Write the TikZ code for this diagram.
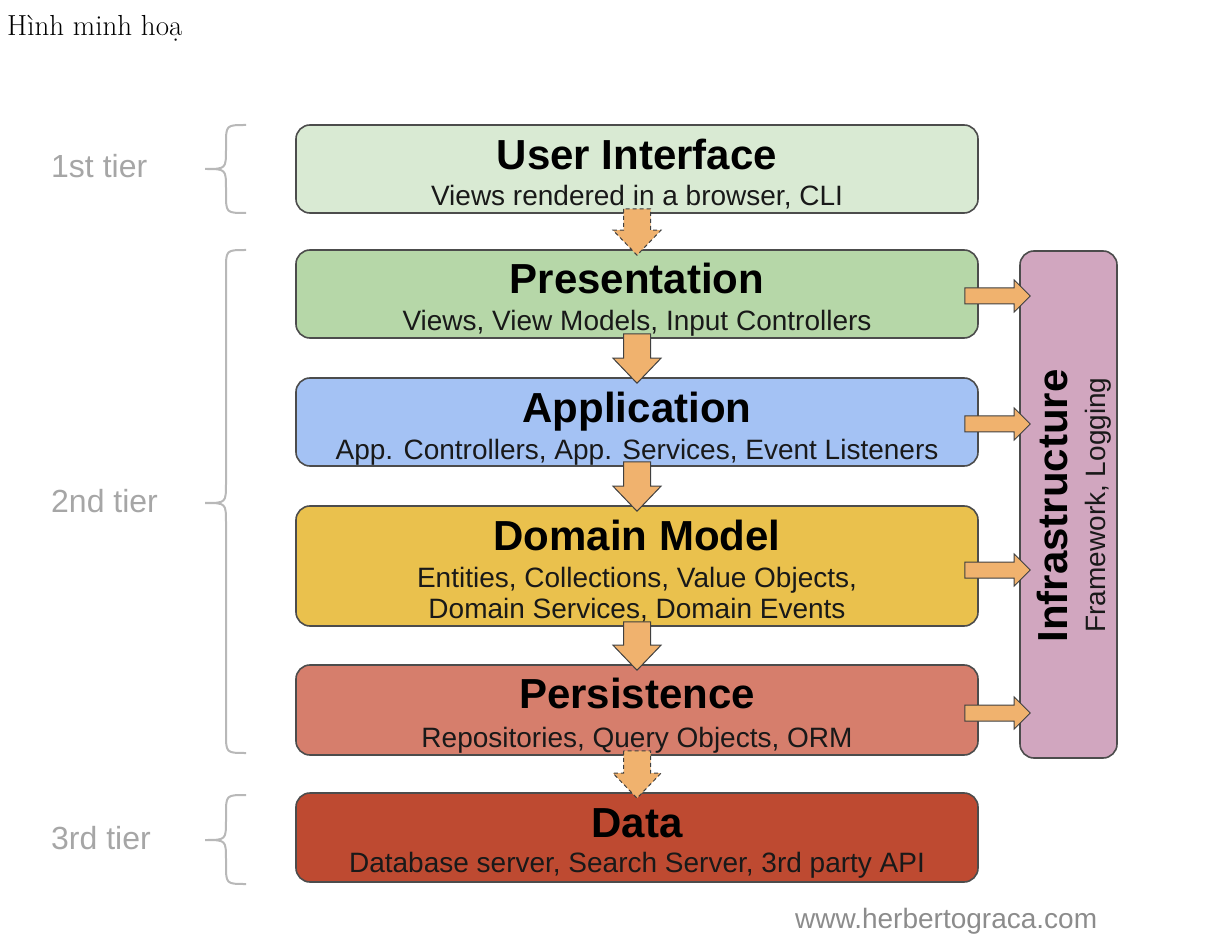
\documentclass[tikz,border=0pt]{standalone}
\usepackage{fontspec}
\newfontfamily\arialfont{Liberation Sans}
\usepackage{tikz}
\usetikzlibrary{calc}
\definecolor{uicol}{RGB}{217,234,211}
\definecolor{prescol}{RGB}{182,215,168}
\definecolor{appcol}{RGB}{164,194,244}
\definecolor{domcol}{RGB}{234,193,77}
\definecolor{perscol}{RGB}{214,126,108}
\definecolor{datacol}{RGB}{190,74,49}
\definecolor{infracol}{RGB}{209,166,191}
\definecolor{arrowcol}{RGB}{240,178,110}

\begin{document}
\begin{tikzpicture}[
  x=1pt, y=-1pt,
  layer/.style={draw=black!70, line width=1.6pt, rounded corners=14pt, inner sep=0pt},
  title/.style={font=\arialfont\bfseries\fontsize{42}{48}\selectfont, anchor=base, inner sep=0pt},
  sub/.style={font=\arialfont\fontsize{28}{32}\selectfont, anchor=base, inner sep=0pt, text=black!90},
  tierlabel/.style={font=\arialfont\fontsize{32}{36}\selectfont, text=black!35, anchor=base west, inner sep=0pt},
  tierbrace/.style={draw=black!28, line width=2pt},
  flow/.style={draw=black!75, fill=arrowcol, line width=1pt, line join=miter},
  broken/.style={dash pattern=on 4pt off 3pt}
]
  \useasboundingbox (0,0) rectangle (1224,949);
  \node[font=\fontsize{29}{34}\selectfont, anchor=base west, inner sep=0pt] (caption) at (7,36) {Hình minh hoạ};
  % tiers
  \foreach \i/\t/\m/\b/\lbl in {1/125/169/213/1st tier, 2/250/503/753/2nd tier, 3/795/840/884/3rd tier} {
    \draw[tierbrace] (246,\t) .. controls (226,\t) .. (226,\t+20) -- (226,\m-20) .. controls (226,\m) .. (205,\m)
      .. controls (226,\m) .. (226,\m+20) -- (226,\b-20) .. controls (226,\b) .. (246,\b);
    \node[tierlabel] (tier\i) at (51,\m+9) {\lbl};
  }
  % layers
  \node[layer, fill=uicol, minimum width=682pt, minimum height=88pt] (ui) at (637,169) {};
  \node[layer, fill=prescol, minimum width=682pt, minimum height=88pt] (pres) at (637,294) {};
  \node[layer, fill=appcol, minimum width=682pt, minimum height=88pt] (app) at (637,422) {};
  \node[layer, fill=domcol, minimum width=682pt, minimum height=120pt] (dom) at (637,566) {};
  \node[layer, fill=perscol, minimum width=682pt, minimum height=90pt] (pers) at (637,710) {};
  \node[layer, fill=datacol, minimum width=682pt, minimum height=89pt] (data) at (637,837.5) {};
  \node[layer, fill=infracol, minimum width=97pt, minimum height=507pt] (infra) at (1068.5,504.5) {};
  \node[title] (ui-title) at (637,170) {User Interface};
  \node[sub] (ui-sub) at (637,206) {Views rendered in a browser, CLI};
  \node[title] (pres-title) at (637,294) {Presentation};
  \node[sub] (pres-sub) at (637,331) {Views, View Models, Input Controllers};
  \node[title] (app-title) at (637,423) {Application};
  \node[sub] (app-sub) at (637,460) {App. Controllers, App. Services, Event Listeners};
  \node[title] (dom-title) at (637,550) {Domain Model};
  \node[sub] (dom-sub1) at (637,587) {Entities, Collections, Value Objects,};
  \node[sub] (dom-sub2) at (637,618) {Domain Services, Domain Events};
  \node[title] (pers-title) at (637,708) {Persistence};
  \node[sub] (pers-sub) at (637,747) {Repositories, Query Objects, ORM};
  \node[title] (data-title) at (637,837) {Data};
  \node[sub] (data-sub) at (637,872) {Database server, Search Server, 3rd party API};
  \node[title, rotate=90] (infra-title) at (1067,506) {Infrastructure};
  \node[sub, rotate=90] (infra-sub) at (1105,505) {Framework, Logging};
  % flows down
  \foreach \a/\b/\st in {ui/pres/broken, pres/app/solid, app/dom/solid, dom/pers/solid, pers/data/broken} {
    \draw[flow,\st] ($(\a.south)+(-13.5,-5)$) -- ($(\b.north)+(-13.5,-19)$) -- ($(\b.north)+(-24,-19)$) -- ($(\b.north)+(0,6)$)
      -- ($(\b.north)+(24,-19)$) -- ($(\b.north)+(13.5,-19)$) -- ($(\a.south)+(13.5,-5)$) -- cycle;
  }
  % flows to infrastructure
  \foreach \a/\dy in {pres/2, app/2, dom/4, pers/3} {
    \draw[flow] ($(\a.east)+(-14,\dy-8)$) -- ($(\a.east -| infra.west)+(-5,\dy-8)$) -- ($(\a.east -| infra.west)+(-5,\dy-16)$)
      -- ($(\a.east -| infra.west)+(11,\dy)$) -- ($(\a.east -| infra.west)+(-5,\dy+16)$) -- ($(\a.east -| infra.west)+(-5,\dy+8)$)
      -- ($(\a.east)+(-14,\dy+8)$) -- cycle;
  }
  \node[font=\arialfont\fontsize{28}{32}\selectfont, text=black!45, anchor=base west, inner sep=0pt] (credit) at (795,928) {www.herbertograca.com};
\end{tikzpicture}
\end{document}
